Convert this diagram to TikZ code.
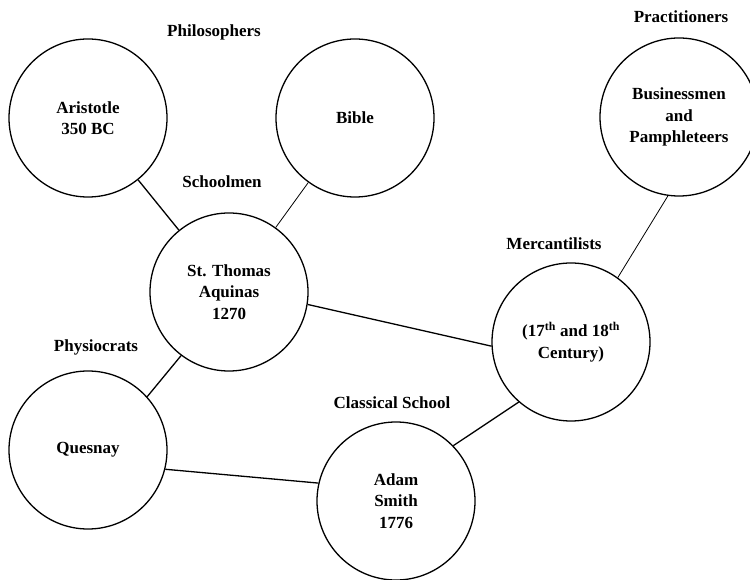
\documentclass[tikz,border=0pt]{standalone}
\usepackage{fontspec}
\setmainfont{Liberation Serif}
\begin{document}
\begin{tikzpicture}[x=1pt,y=1pt,
  every node/.style={font=\fontsize{17}{21.5}\selectfont\bfseries},
  era/.style={circle,draw,line width=1.3pt,minimum size=158pt,inner sep=0pt,align=center},
  tag/.style={inner sep=0pt},
  thickline/.style={line width=1.3pt},
  thinline/.style={line width=0.8pt}]
\useasboundingbox (0,0) rectangle (750,579);
\clip (0,0) rectangle (750,579);
\node[era] (ar) at (88,461) {Aristotle\\350 BC};
\node[era] (bi) at (355,461) {Bible};
\node[era] (bu) at (679,462) {Businessmen\\and\\Pamphleteers};
\node[era] (th) at (229,287) {St. Thomas\\Aquinas\\1270};
\node[era] (me) at (571,237) {(17\textsuperscript{th} and 18\textsuperscript{th}\\Century)};
\node[era] (qu) at (88,129) {Quesnay};
\node[era] (sm) at (396,78) {Adam\\Smith\\1776};
\node[tag] (lphil) at (214,547) {Philosophers};
\node[tag] (lprac) at (681,562) {Practitioners};
\node[tag] (lsch) at (222,397) {Schoolmen};
\node[tag] (lmer) at (554,335) {Mercantilists};
\node[tag] (lphy) at (96,232) {Physiocrats};
\node[tag] (lcla) at (392,176) {Classical School};
\draw[thickline] (ar) -- (th);
\draw[thinline] (bi) -- (th);
\draw[thickline] (th.-9) -- (me.183);
\draw[thinline] (bu.-98) -- (me.54);
\draw[thickline] (me.229) -- (sm.44);
\draw[thickline] (th.233) -- (qu.42);
\draw[thickline] (qu.-14) -- (sm.167);
\end{tikzpicture}
\end{document}
